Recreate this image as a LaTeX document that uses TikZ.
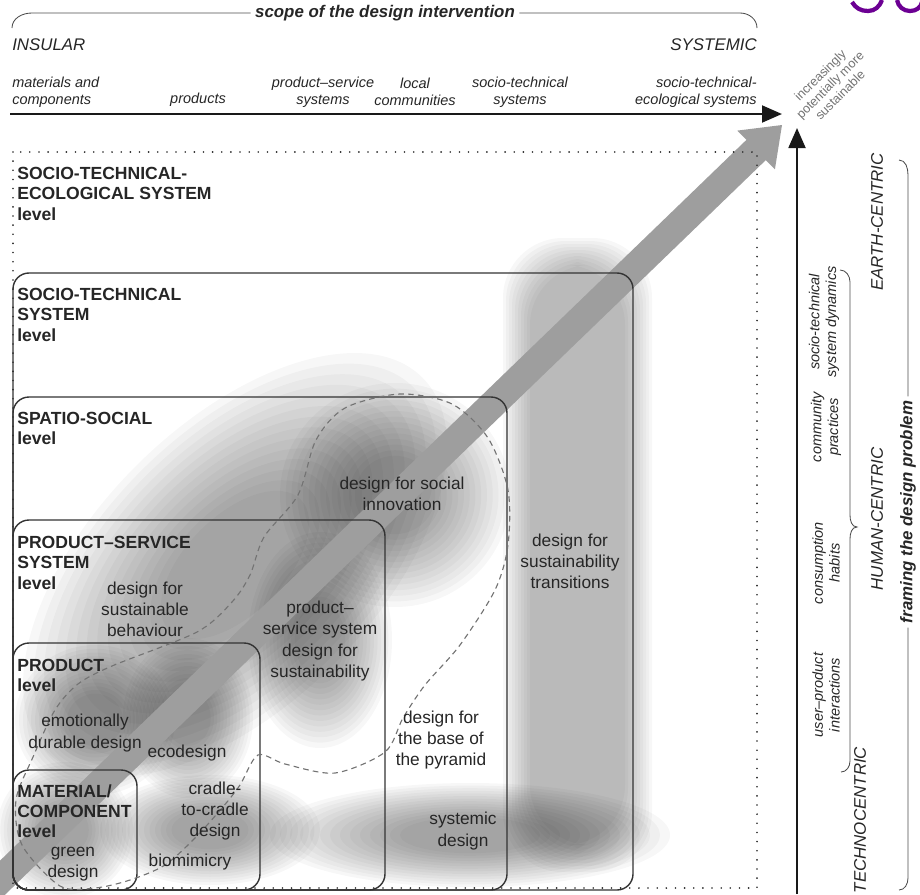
\documentclass[tikz,border=0pt]{standalone}
\usepackage{fontspec}
\setmainfont{Liberation Sans}
\usetikzlibrary{arrows.meta}

% soft grey patch: centre x, centre y, x radius, y radius, angle (pixels)
\newcommand{\softblob}[5]{%
  \foreach \k in {0,...,13}
    \fill[softfill, rotate around={#5:(#1,#2)}] (#1,#2)
      ellipse [x radius={#3*(1-0.05*\k)*0.025cm}, y radius={#4*(1-0.05*\k)*0.025cm}];
}
% soft grey bar: left, top, right, bottom (pixels)
\newcommand{\softbar}[4]{%
  \foreach \k in {0,...,9}
    \fill[softfill, rounded corners=1.5cm] ({#1+3*\k},{#2+3*\k}) rectangle ({#3-3*\k},{#4-3*\k});
}

\begin{document}
\begin{tikzpicture}[x=0.025cm, y=-0.025cm,
    softfill/.style={fill=black, fill opacity=0.03},
    levelbox/.style={draw=black!80, line width=1pt, rounded corners=0.4cm},
    outline/.style={draw=black!55, line width=0.8pt, dash pattern=on 4pt off 3pt},
    levelname/.style={font=\bfseries\fontsize{12.5}{14.5}\selectfont, align=left, anchor=north west, inner sep=0pt, text=black!85},
    approach/.style={font=\fontsize{12.3}{15}\selectfont, align=center, inner sep=0pt, text=black!85},
    scalelabel/.style={font=\itshape\fontsize{10.3}{12}\selectfont, align=center, inner sep=0pt, text=black!85},
    pole/.style={font=\itshape\fontsize{12}{14}\selectfont, inner sep=0pt, text=black!85},
    axistitle/.style={font=\bfseries\itshape\fontsize{12}{14}\selectfont, inner sep=3pt, text=black!85},
    bracket/.style={draw=black!70, line width=0.6pt},
    axisarrow/.style={draw=black!90, line width=1.8pt, -{Triangle[length=0.5cm, width=0.42cm]}}]
  \useasboundingbox (0,0) rectangle (920,894);
  \clip (0,0) rectangle (920,894);

  % grey areas of the design approaches
  \softblob{235}{565}{265}{140}{45}
  \softblob{395}{495}{115}{112}{0}
  \softblob{320}{640}{72}{108}{0}
  \softbar{503}{238}{652}{872}
  \softblob{470}{835}{200}{52}{0}
  \softblob{210}{830}{110}{55}{0}
  \softblob{65}{830}{68}{68}{0}
  \softblob{95}{720}{80}{75}{0}
  \softblob{188}{718}{65}{80}{0}

  % big arrow
  \fill[black!38] (-71.5,968.6) -- (765.8,160.1) -- (774.9,169.4) -- (782,125)
    -- (737.3,130.6) -- (746.4,139.9) -- (-90.9,948.4) -- cycle;

  % levels
  \draw[black!85, line width=1.3pt, line cap=round, dash pattern=on 0pt off 6.5pt] (13,152) rectangle (757,888);
  \draw[levelbox] (13,273) rectangle (633,890);
  \draw[levelbox] (13,397) rectangle (507,890);
  \draw[levelbox] (13,520) rectangle (385,890);
  \draw[levelbox] (13,643) rectangle (260,890);
  \draw[levelbox] (13,770) rectangle (137,890);

  \draw[outline] plot[smooth cycle] coordinates {(60,886) (22,845) (16,800) (33,757)
    (55,710) (78,684) (112,666) (197,632) (232,602) (250,575) (264,537) (298,495)
    (316,440) (345,408) (400,394) (452,404) (488,438) (508,490) (508,545) (495,590)
    (460,645) (425,685) (403,718) (385,752) (335,773) (285,764) (258,755) (240,785)
    (222,808) (195,838) (165,865) (130,880) (95,888)};

  \node[levelname] (lvlste) at (17,167) {SOCIO-TECHNICAL-\\ECOLOGICAL SYSTEM\\level};
  \node[levelname] (lvlst) at (17,288) {SOCIO-TECHNICAL\\SYSTEM\\level};
  \node[levelname] (lvlss) at (17,412) {SPATIO-SOCIAL\\level};
  \node[levelname] (lvlpss) at (17,536) {PRODUCT--SERVICE\\SYSTEM\\level};
  \node[levelname] (lvlp) at (17,659) {PRODUCT\\level};
  \node[levelname] (lvlmc) at (17,784) {MATERIAL/\\COMPONENT\\level};

  % design approaches
  \node[approach] (social) at (402,494) {design for social\\innovation};
  \node[approach] (transitions) at (570,561) {design for\\sustainability\\transitions};
  \node[approach] (behaviour) at (145,609) {design for\\sustainable\\behaviour};
  \node[approach] (pssdesign) at (320,641) {product--\\service system\\design for\\sustainability};
  \node[approach] (emotional) at (85,733) {emotionally\\durable design};
  \node[approach] (ecodesign) at (187,753) {ecodesign};
  \node[approach] (cradle) at (215,811) {cradle-\\to-cradle\\design};
  \node[approach] (green) at (73,864) {green\\design};
  \node[approach] (biomimicry) at (190,862) {biomimicry};
  \node[approach] (pyramid) at (441,740) {design for\\the base of\\the pyramid};
  \node[approach] (systemic) at (463,831) {systemic\\design};

  % scope of the design intervention
  \node[axistitle] (scope) at (385,13) {scope of the design intervention};
  \draw[bracket] (12,28) to[out=90,in=180] (32,13) -- (scope.west);
  \draw[bracket] (scope.east) -- (740,13) to[out=0,in=90] (757,28);
  \node[pole, anchor=west] (insular) at (12,45) {INSULAR};
  \node[pole, anchor=east] (systemicpole) at (757,45) {SYSTEMIC};

  \node[scalelabel, align=left, anchor=west] (materials) at (12,92) {materials and\\components};
  \node[scalelabel] (products) at (198,100) {products};
  \node[scalelabel] (pss) at (323,92) {product--service\\systems};
  \node[scalelabel] (local) at (415,92) {local\\communities};
  \node[scalelabel] (stsys) at (520,92) {socio-technical\\systems};
  \node[scalelabel, align=right, anchor=east] (stesys) at (757,92) {socio-technical-\\ecological systems};

  \coordinate (hstart) at (10,114);
  \coordinate (hend) at (782,114);
  \draw[axisarrow] (hstart) -- (hend);
  \coordinate (vstart) at (797,894);
  \coordinate (vend) at (797,128);
  \draw[axisarrow] (vstart) -- (vend);

  \node[rotate=45, font=\fontsize{9}{10}\selectfont, align=center, text=black!55, inner sep=0pt]
    (sustainable) at (830,85) {increasingly\\potentially more\\sustainable};

  % framing the design problem
  \node[scalelabel, rotate=90] (stdyn) at (824,322) {socio-technical\\system dynamics};
  \node[scalelabel, rotate=90] (community) at (826,427) {community\\practices};
  \node[scalelabel, rotate=90] (habits) at (826,563) {consumption\\habits};
  \node[scalelabel, rotate=90] (userprod) at (826,695) {user--product\\interactions};
  \draw[bracket] (840,270) to[out=0,in=90] (850,282) -- (850,515)
    to[out=-90,in=180] (857,527) to[out=180,in=90] (850,539) -- (850,761)
    to[out=-90,in=0] (841,772);

  \node[pole, rotate=90] (earth) at (877,222) {EARTH-CENTRIC};
  \node[pole, rotate=90] (human) at (877,519) {HUMAN-CENTRIC};
  \node[pole, rotate=90] (techno) at (860,820) {TECHNOCENTRIC};

  \node[axistitle, rotate=90] (framing) at (908,512) {framing the design problem};
  \draw[bracket] (899,160) to[out=0,in=90] (908,175) -- (framing.east);
  \draw[bracket] (framing.west) -- (908,878) to[out=-90,in=0] (899,890);

  % cut-off heading at the top right
  \draw[line width=3pt, violet!85!blue] (852,2) to[out=-60,in=180] (868,11) to[out=0,in=-110] (882,0);
  \draw[line width=3pt, violet!85!blue] (897,0) to[out=-80,in=180] (910,11) to[out=0,in=-100] (922,2);
\end{tikzpicture}
\end{document}
